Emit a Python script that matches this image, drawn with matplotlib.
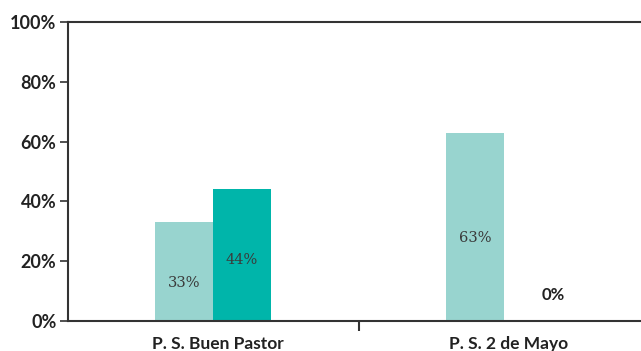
import numpy as np
import matplotlib.pyplot as plt
from matplotlib.transforms import ScaledTranslation

categories = ["P. S. Buen Pastor", "P. S. 2 de Mayo"]
serie_a = [33, 63]
serie_b = [44, 0]
etiquetas_a = ["33%", "63%"]
etiquetas_b = ["44%", "0%"]
yticks = [0, 20, 40, 60, 80, 100]

color_a = "#98d4cf"
color_b = "#00b5aa"
eje = "#333333"

fig = plt.figure(figsize=(6.41, 3.51), dpi=100)
ax = fig.add_axes([67.5 / 641, 30 / 351, 582 / 641, 299 / 351])

x = np.arange(len(categories))
w = 0.2
ax.bar(x - w / 2, serie_a, width=w, color=color_a)
ax.bar(x + w / 2, serie_b, width=w, color=color_b)

# etiquetas dentro de las barras (altura fija en %)
pos_a = [12.7, 27.8]
pos_b = [20.4, 8.7]
for i in range(len(categories)):
    ax.text(x[i] - w / 2, pos_a[i], etiquetas_a[i], ha="center", va="center",
            fontsize=10.5, family="DejaVu Serif", color="#3a3a3a")
    if serie_b[i] > 0:
        ax.text(x[i] + w / 2, pos_b[i], etiquetas_b[i], ha="center", va="center",
                fontsize=10.5, family="DejaVu Serif", color="#3a3a3a")
    else:
        ax.text(x[i] + 0.17, pos_b[i], etiquetas_b[i], ha="center", va="center",
                fontsize=12, family="Lato", fontweight="bold", color="#222222")

ax.set_xlim(-0.5, 1.5)
ax.set_ylim(0, 100)

ax.set_yticks(yticks)
ax.set_yticklabels([f"{t}%" for t in yticks], family="Lato", fontweight="bold",
                   fontsize=13, color="#222222")
ax.tick_params(axis="y", direction="out", length=6, width=1.2, color=eje, pad=2)

ax.set_xticks([0.5])
ax.set_xticklabels([""])
ax.set_xticks(x, minor=True)
ax.set_xticklabels(categories, minor=True, family="Lato", fontweight="bold",
                   fontsize=12.5, color="#222222")
ax.tick_params(axis="x", which="major", direction="out", length=7, width=1.5, color=eje)
ax.tick_params(axis="x", which="minor", length=0, pad=11)

# desplazar un poco a la derecha los nombres de las categorías
desplaza = ScaledTranslation(5 / 100, 0, fig.dpi_scale_trans)
for lbl in ax.get_xticklabels(minor=True):
    lbl.set_transform(lbl.get_transform() + desplaza)

for lado in ["left", "bottom", "top"]:
    ax.spines[lado].set_color(eje)
    ax.spines[lado].set_linewidth(1.5)
ax.spines["right"].set_visible(False)

fig.savefig("out.png", dpi=100)
